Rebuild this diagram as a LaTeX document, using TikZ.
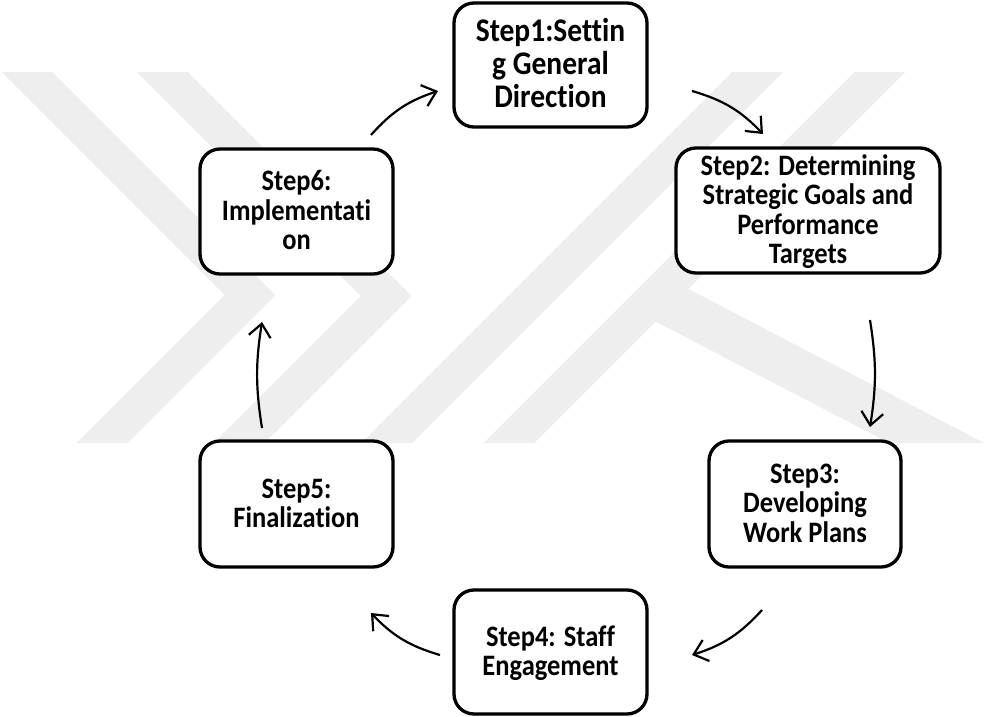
\documentclass[tikz,border=0pt]{standalone}
\usepackage{fontspec}
\setmainfont{Carlito}[Ligatures={NoCommon,NoRare},RawFeature={-liga;-clig;-calt;-dlig}]
\usepackage{graphicx}
\usetikzlibrary{arrows.meta}
\definecolor{wm}{HTML}{EEEEEE}
\newcommand{\stxt}[1]{\raisebox{-3pt}[\height][\depth]{\scalebox{1}[1.12]{\begin{tabular}{@{}c@{}}#1\end{tabular}}}}
\begin{document}
\begin{tikzpicture}[x=1pt,y=1pt,
  box/.style={draw=black, line width=3.3pt, rounded corners=20pt, fill=white,
    align=center, inner sep=0pt, font=\bfseries\fontsize{26.5}{26.3}\selectfont},
  arr/.style={line width=2.2pt, -{Straight Barb[length=13pt,width=22pt,line width=2.2pt]}},
  band/.style={draw=wm, line width=36pt, line cap=butt, line join=miter}]
\useasboundingbox (0,0) rectangle (986,-717);
% watermark
\begin{scope}
  \clip (0,-73) rectangle (986,-442);
  \draw[band] (-5,-40) -- (250,-295) -- (65,-480);
  \draw[band] (130,-40) -- (386,-296) -- (202,-480);
  \draw[band] (350,-480) -- (790,-40);
  \draw[band] (472,-480) -- (912,-40);
  \draw[band, line width=44pt] (662,-300) -- (1000,-476);
\end{scope}
% boxes
\node[box, minimum width=193pt, minimum height=124pt, font=\bfseries\fontsize{29.5}{28.6}\selectfont] (s1) at (550.5,-65) {\stxt{Step1:Settin\\g General\\Direction}};
\node[box, minimum width=264pt, minimum height=125pt] (s2) at (808,-210.5) {\stxt{Step2: Determining\\Strategic Goals and\\Performance\\Targets}};
\node[box, minimum width=192pt, minimum height=126pt] (s3) at (805,-504) {\stxt{Step3:\\Developing\\Work Plans}};
\node[box, minimum width=193pt, minimum height=124pt] (s4) at (550.5,-652) {\stxt{Step4: Staff\\Engagement}};
\node[box, minimum width=193pt, minimum height=126pt] (s5) at (296.5,-504) {\stxt{Step5:\\Finalization}};
\node[box, minimum width=193pt, minimum height=125pt] (s6) at (296.5,-211.5) {\stxt{Step6:\\Implementati\\on}};
% arrow ends
\coordinate (a61s) at (371,-135); \coordinate (a61e) at (438,-91);
\coordinate (a12s) at (692,-91);  \coordinate (a12e) at (763,-134);
\coordinate (a23s) at (870,-320); \coordinate (a23e) at (870,-427);
\coordinate (a34s) at (762,-610); \coordinate (a34e) at (692,-655);
\coordinate (a45s) at (440,-655); \coordinate (a45e) at (371,-613);
\coordinate (a56s) at (262,-428); \coordinate (a56e) at (262,-322);
\draw[arr] (a61s) to[bend left=15] (a61e);
\draw[arr] (a12s) to[bend left=15] (a12e);
\draw[arr] (a23s) to[bend left=9] (a23e);
\draw[arr] (a34s) to[bend left=15] (a34e);
\draw[arr] (a45s) to[bend left=15] (a45e);
\draw[arr] (a56s) to[bend left=9] (a56e);
\end{tikzpicture}
\end{document}
